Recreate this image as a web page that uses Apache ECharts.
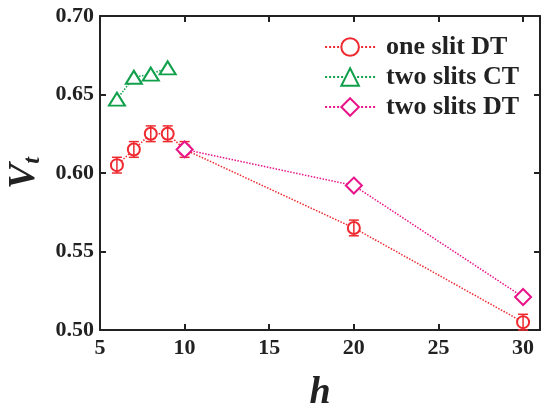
<!DOCTYPE html>
<html>
<head>
<meta charset="utf-8">
<script src="https://cdn.jsdelivr.net/npm/echarts@6/dist/echarts.min.js"></script>
<style>
  html, body { margin: 0; padding: 0; background: #fff; }
  #chart { width: 544px; height: 403px; }
</style>
</head>
<body>
<div id="chart"></div>
<script>
// values
const oneSlitH = [6, 7, 8, 9, 10, 20, 30]
const oneSlitV = [0.605, 0.615, 0.625, 0.625, 0.615, 0.565, 0.505]
const oneSlitErr = [0.005, 0.005, 0.005, 0.005, 0.005, 0.005, 0.005]
const twoCTH = [6, 7, 8, 9]
const twoCTV = [0.647, 0.661, 0.663, 0.667]
const twoDTH = [10, 20, 30]
const twoDTV = [0.615, 0.592, 0.521]

const RED = '#ee2a30'
const GREEN = '#10a04c'
const MAGENTA = '#e8158a'
const font = 'Liberation Serif'

const chart = echarts.init(document.getElementById('chart'))

const pairs = (xs, ys) => xs.map((x, i) => [x, ys[i]])
const errData = oneSlitH.map((x, i) => [x, oneSlitV[i] - oneSlitErr[i], oneSlitV[i] + oneSlitErr[i]])

const tickLabel = { fontFamily: font, fontWeight: 'bold', fontSize: 22, color: '#222' }
const axisLine = { lineStyle: { color: '#222', width: 2 } }
const axisTick = { inside: true, length: 6, lineStyle: { color: '#222', width: 2 } }

chart.setOption({
  animation: false,
  grid: { left: 100, right: 4, top: 16, bottom: 73, outerBoundsMode: 'none' },
  legend: {
    right: 20,
    top: 29,
    orient: 'vertical',
    itemGap: 4,
    itemWidth: 50,
    itemHeight: 22,
    textStyle: { fontFamily: font, fontWeight: 'bold', fontSize: 26, lineHeight: 26, color: '#222', padding: [0, 0, 0, 6] },
    data: ['one slit DT', 'two slits CT', 'two slits DT']
  },
  xAxis: [{
    type: 'value', min: 5, max: 31, interval: 5,
    axisLine, axisTick,
    splitLine: { show: false },
    axisLabel: Object.assign({ margin: 7, showMaxLabel: false }, tickLabel),
    name: 'h',
    nameLocation: 'middle',
    nameGap: 44,
    nameTextStyle: { fontFamily: font, fontWeight: 'bold', fontStyle: 'italic', fontSize: 38, color: '#222' }
  }, {
    type: 'value', min: 5, max: 31, interval: 5, position: 'top',
    axisLine, axisTick, axisLabel: { show: false }, splitLine: { show: false }
  }],
  yAxis: [{
    type: 'value', min: 0.5, max: 0.7, interval: 0.05,
    axisLine, axisTick,
    splitLine: { show: false },
    axisLabel: Object.assign({ margin: 6, formatter: v => v.toFixed(2) }, tickLabel),
    name: '{v|V}{t|t}',
    nameLocation: 'middle',
    nameGap: 50,
    nameTextStyle: {
      rich: {
        v: { fontFamily: font, fontWeight: 'bold', fontStyle: 'italic', fontSize: 38, color: '#222' },
        t: { fontFamily: font, fontWeight: 'bold', fontStyle: 'italic', fontSize: 24, color: '#222', padding: [16, 0, 0, 0] }
      }
    }
  }, {
    type: 'value', min: 0.5, max: 0.7, interval: 0.05, position: 'right',
    axisLine, axisTick, axisLabel: { show: false }, splitLine: { show: false }
  }],
  series: [{
    name: 'one slit DT',
    type: 'line',
    data: pairs(oneSlitH, oneSlitV),
    symbol: 'circle',
    symbolSize: 12,
    itemStyle: { color: '#fff', borderColor: RED, borderWidth: 2 },
    lineStyle: { color: RED, width: 1.5, type: 'dotted' },
    z: 3
  }, {
    type: 'custom',
    data: errData,
    z: 4,
    renderItem(params, api) {
      const lo = api.coord([api.value(0), api.value(1)])
      const hi = api.coord([api.value(0), api.value(2)])
      const w = 5
      const style = { stroke: RED, lineWidth: 1.5 }
      return {
        type: 'group',
        children: [
          { type: 'line', shape: { x1: lo[0], y1: lo[1], x2: hi[0], y2: hi[1] }, style },
          { type: 'line', shape: { x1: lo[0] - w, y1: lo[1], x2: lo[0] + w, y2: lo[1] }, style },
          { type: 'line', shape: { x1: hi[0] - w, y1: hi[1], x2: hi[0] + w, y2: hi[1] }, style }
        ]
      }
    }
  }, {
    name: 'two slits CT',
    type: 'line',
    data: pairs(twoCTH, twoCTV),
    symbol: 'triangle',
    symbolSize: [16, 13],
    itemStyle: { color: '#fff', borderColor: GREEN, borderWidth: 2 },
    lineStyle: { color: GREEN, width: 1.5, type: 'dotted' }
  }, {
    name: 'two slits DT',
    type: 'line',
    data: pairs(twoDTH, twoDTV),
    symbol: 'diamond',
    symbolSize: 16,
    itemStyle: { color: '#fff', borderColor: MAGENTA, borderWidth: 2 },
    lineStyle: { color: MAGENTA, width: 1.5, type: 'dotted' },
    z: 5
  }]
})
</script>
</body>
</html>
